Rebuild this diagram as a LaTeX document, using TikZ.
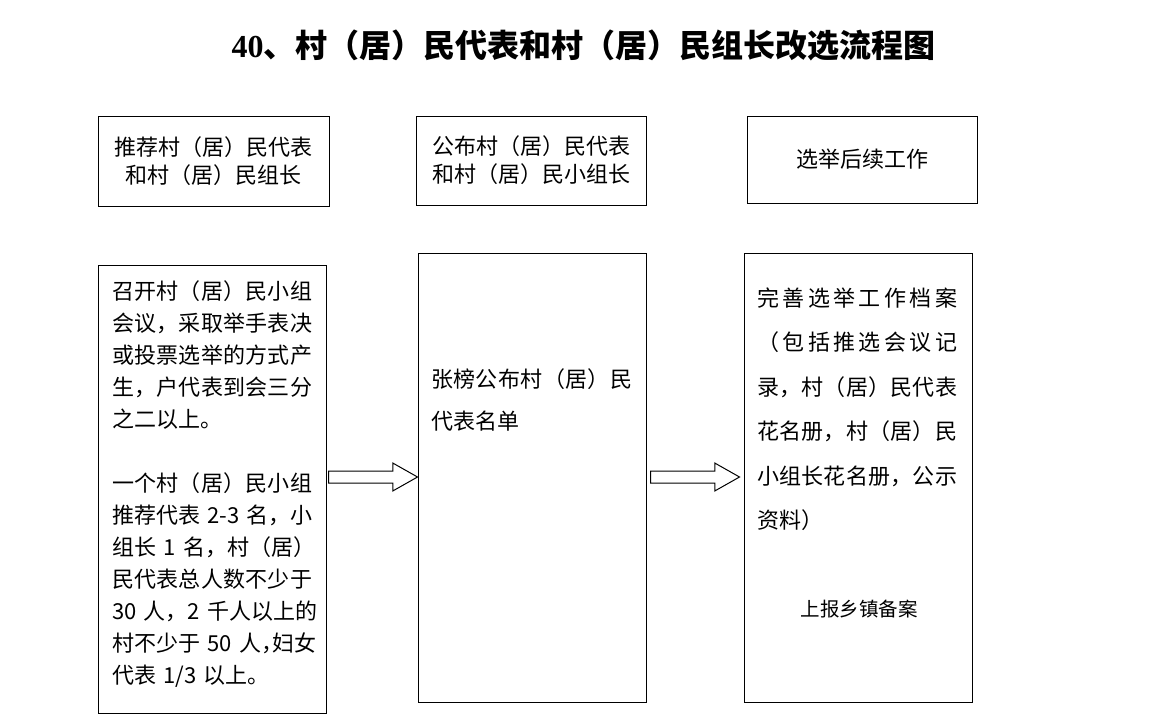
\documentclass[tikz,border=0pt]{standalone}
\usepackage{fontspec}
\setmainfont{Noto Sans CJK SC}
\newfontfamily\numfont{Liberation Serif}
\usetikzlibrary{shapes.arrows}
\makeatletter
\newcommand{\jline}[2][200pt]{\leavevmode\hbox to #1{\@tfor\jl@c:=#2\do{\jl@c\hfil}\unskip}}
\makeatother
\newcommand{\halfcomma}{\makebox[11pt][l]{，}}

\begin{document}
\begin{tikzpicture}[x=1pt,y=-1pt]
\tikzset{
  headbox/.style={draw,line width=1pt,minimum width=230pt,inner sep=0pt,align=center,font=\fontsize{22}{28}\selectfont},
  bodybox/.style={draw,line width=1pt,minimum width=228pt,minimum height=449pt,inner sep=0pt},
  bodytext/.style={anchor=base west,inner sep=0pt,text width=200pt,align=left},
  blockarrow/.style={single arrow,draw,line width=1pt,anchor=tail,minimum height=89pt,minimum width=27pt,single arrow head extend=8pt,single arrow tip angle=59,inner xsep=0pt,inner ysep=5.5pt}
}
\useasboundingbox (0,0) rectangle (1152,726);
\node[font=\fontsize{32}{32}\selectfont\bfseries,inner sep=0pt] (n_title) at (583.5,45) {{\numfont 40}、村（居）民代表和村（居）民组长改选流程图};
\node[headbox,minimum width=231pt,minimum height=90pt] (n_h1) at (213.5,161) {推荐村（居）民代表\\和村（居）民组长};
\node[headbox,minimum height=89pt] (n_h2) at (531,160.5) {公布村（居）民代表\\和村（居）民小组长};
\node[headbox,minimum height=87pt] (n_h3) at (862,159.5) {选举后续工作};
\node[bodybox,minimum height=448pt] (n_c1) at (212,489) {};
\node[bodybox] (n_c2) at (532,477.5) {};
\node[bodybox] (n_c3) at (858,477.5) {};
\node[bodytext,font=\fontsize{22}{32}\selectfont] (n_t1) at (112,299.4) {\jline{召开村（居）民小组}\\ \jline{会议，采取举手表决}\\ \jline{或投票选举的方式产}\\ \jline{生，户代表到会三分}\\ 之二以上。\\[32pt] \jline{一个村（居）民小组}\\ \jline{推荐代表{ 2-3 }名，小}\\ \jline{组长{ 1 }名，村（居）}\\ \jline{民代表总人数不少于}\\ \jline{{30 }人，{2 }千人以上的}\\ \jline{村不少于{ 50 }人{\halfcomma}妇女}\\ 代表 1/3 以上。};
\node[bodytext,font=\fontsize{22}{42}\selectfont] (n_t2) at (431,387.4) {\jline[201pt]{张榜公布村（居）民}\\ 代表名单};
\node[bodytext,font=\fontsize{22}{44.4}\selectfont] (n_t3) at (757,306.4) {\jline{完善选举工作档案}\\ \jline{（包括推选会议记}\\ \jline{录，村（居）民代表}\\ \jline{花名册，村（居）民}\\ \jline{小组长花名册，公示}\\ 资料）};
\node[font=\fontsize{19.5}{19.5}\selectfont,anchor=base,inner sep=0pt] (n_t4) at (859,616.5) {上报乡镇备案};
\node[blockarrow] (n_a1) at (328,477) {};
\node[blockarrow] (n_a2) at (650,477) {};
\end{tikzpicture}
\end{document}
